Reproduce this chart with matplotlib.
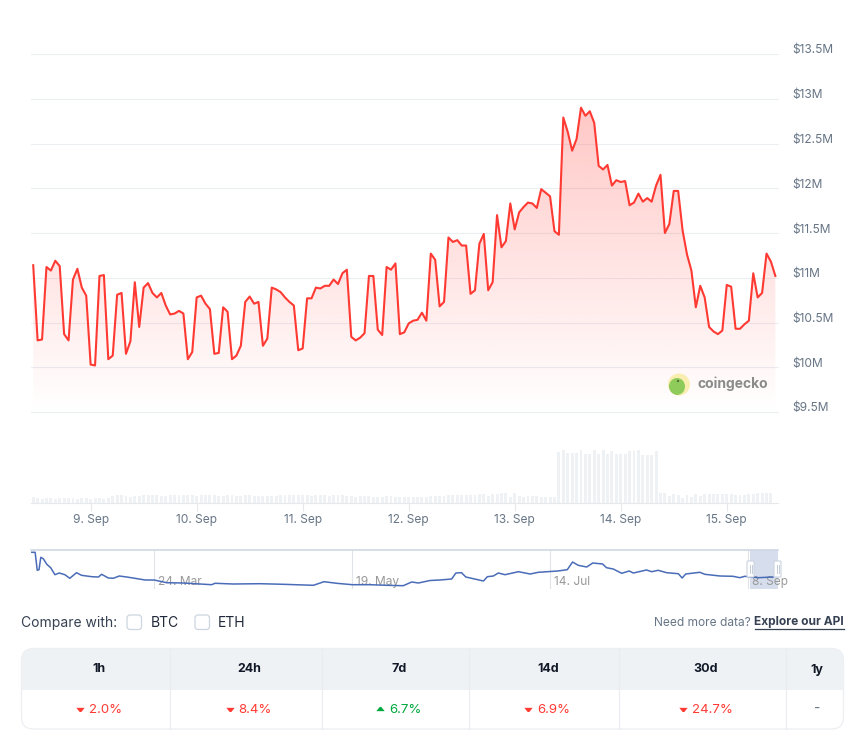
import numpy as np
import matplotlib
matplotlib.use("Agg")
import matplotlib.pyplot as plt
from matplotlib.patches import FancyBboxPatch, Rectangle, Circle, Ellipse
from matplotlib.transforms import ScaledTranslation
from matplotlib.ticker import FuncFormatter

plt.rcParams['font.family'] = ['Inter', 'DejaVu Sans']

# hourly price in $M, first point is 13h before 9 Sep 00:00
price = [11.14, 10.30, 10.31, 11.12, 11.08, 11.19, 11.13, 10.37, 10.30, 10.98,
         11.10, 10.89, 10.80, 10.03, 10.02, 11.02, 11.03, 10.09, 10.13, 10.81,
         10.83, 10.15, 10.29, 10.95, 10.45, 10.89, 10.94, 10.83, 10.78, 10.83,
         10.69, 10.59, 10.60, 10.63, 10.60, 10.09, 10.17, 10.78, 10.80, 10.71,
         10.65, 10.15, 10.16, 10.67, 10.62, 10.09, 10.13, 10.24, 10.73, 10.79,
         10.71, 10.73, 10.24, 10.32, 10.89, 10.87, 10.84, 10.78, 10.73, 10.69,
         10.19, 10.21, 10.77, 10.77, 10.89, 10.88, 10.91, 10.91, 10.98, 10.93,
         11.05, 11.09, 10.34, 10.30, 10.33, 10.38, 11.02, 11.02, 10.42, 10.36,
         11.12, 11.09, 11.16, 10.37, 10.39, 10.49, 10.52, 10.53, 10.61, 10.52,
         11.27, 11.20, 10.68, 10.73, 11.45, 11.40, 11.42, 11.36, 11.36, 10.82,
         10.86, 11.38, 11.49, 10.86, 10.95, 11.70, 11.34, 11.41, 11.83, 11.54,
         11.73, 11.79, 11.84, 11.83, 11.78, 11.99, 11.95, 11.91, 11.52, 11.48,
         12.79, 12.63, 12.42, 12.55, 12.90, 12.81, 12.86, 12.73, 12.25, 12.21,
         12.26, 12.03, 12.09, 12.07, 12.08, 11.81, 11.84, 11.94, 11.85, 11.89,
         11.85, 12.03, 12.15, 11.50, 11.60, 11.97, 11.97, 11.53, 11.26, 11.08,
         10.67, 10.91, 10.78, 10.45, 10.40, 10.37, 10.41, 10.92, 10.90, 10.43,
         10.43, 10.48, 10.52, 11.05, 10.78, 10.83, 11.27, 11.18, 11.02]

# volume bars, relative height
volume = [6, 4.5, 4, 4.5, 4.5, 4, 4.5, 4.5, 4.5, 4.5, 4, 4.5, 4.5, 4, 4.5, 4.5, 4, 4.5,
          7, 7.5, 7.5, 6.5, 6, 7, 6.5, 7.5, 8, 8, 8, 7, 7, 7.5, 7.5, 7.5, 7.5, 7.5,
          7.5, 7, 7.5, 7.5, 7.5, 7.5, 6.5, 6.5, 7.5, 7.5, 6.5, 7, 7.5, 7.5, 6.5, 6.5,
          6.5, 7, 7, 6.5, 7.5, 7.5,
          7.5, 7.5, 7.5, 7.5, 7.5, 7, 7.5, 7.5, 7.5, 7, 7.5, 7.5, 7.5, 7, 6.5, 6,
          6.5, 6.5, 6.5, 6, 5.5, 5.5, 6.5, 6.5, 5.5, 5.5, 5.5, 5.5, 5.5, 5.5, 5.5, 5.5,
          6.5, 6.5, 6.5, 6.5, 7.5, 7.5, 7.5, 7.5, 7.5, 7.5, 7.5, 8.5, 8.5, 7, 8.5, 8.5,
          9.5, 9.5, 5.5, 9.5, 6.5, 6, 6.5, 6.5, 6.5, 6, 5.5, 5.5, 5.5,
          51, 53, 50, 50, 50, 53, 49, 49, 53, 49, 53, 49, 52, 49, 49, 49, 52, 52, 53,
          48, 48, 48, 52, 10, 10, 6.5, 9, 8, 4.5, 8, 5.5, 9, 6.5, 9, 9, 9, 9, 9, 9,
          9, 8, 8, 8, 9, 9, 10, 10, 10, 10]

hours = np.arange(len(price)) - 13
vol_hours = np.arange(len(volume)) - 13

day_ticks = [0, 24, 48, 72, 96, 120, 144]
day_labels = ['9. Sep', '10. Sep', '11. Sep', '12. Sep', '13. Sep', '14. Sep', '15. Sep']
price_ticks = [9.5, 10, 10.5, 11, 11.5, 12, 12.5, 13, 13.5]

# navigator overview, days from 24 Mar
nav_days = [-34.9, -33.7, -33.1, -32.6, -32.1, -31.4, -30.4, -29.3, -28.1, -26.9, -25.3, -23.9,
            -22.0, -20.6, -17.7, -15.8, -14.9, -13.0, -11.6, -9.9, -7.8, -5.5, -2.6, 0, 3.5, 8.2,
            12.9, 16.2, 17.2, 22.3, 29.9, 36.5, 45, 48, 51.6, 56, 61, 65.7, 70.4, 72.8, 74.7, 78,
            80.8, 84.1, 85.3, 86.9, 88.1, 93.1, 94.2, 95.9, 97.3, 99.2, 103, 106.3, 108.6, 114.1,
            116.8, 118.3, 119.9, 122.3, 124, 126.8, 127.9, 129.8, 132.2, 134.3, 135.5, 139.2,
            140.7, 142.5, 144.9, 148.2, 149.3, 150.3, 154.3, 155.7, 160, 163.7, 165.6, 167,
            170.8, 175]
nav_vals = [36.7, 36.7, 18.7, 19.3, 31.7, 30.3, 24.7, 21.3, 14.3, 16, 14.3, 10.7,
            16.3, 13.7, 12.3, 12, 14.7, 11, 10.7, 13, 12, 10.7, 9, 9, 6.3, 6,
            5, 4.3, 5.7, 5, 5.3, 4.7, 3.7, 7.3, 5.7, 4.3, 4.3, 3.7, 3.3, 7, 6, 8.5,
            9, 10, 16, 16.3, 12, 8, 12.3, 13, 16, 14.3, 17.3, 15, 16.7, 18,
            19.3, 27, 23.7, 22, 26, 25, 21.3, 20, 15.7, 18, 16, 19,
            17.3, 18.7, 16.3, 15.3, 11, 15, 16.7, 14.7, 13, 12.7, 11.3, 12.7,
            11.3, 12]
nav_ticks = [0, 56, 112, 168]
nav_labels = ['24. Mar', '19. May', '14. Jul', '8. Sep']

# table
periods = ['1h', '24h', '7d', '14d', '30d', '1y']
changes = [-2.0, -8.4, 6.7, -6.9, -24.7]

W, H = 859, 742
RED = '#ff3a33'
GREEN = '#00a83e'
GRID = '#eceef2'
TXT = '#677586'


def px_axes(left, top, right, bottom):
    return fig.add_axes([left / W, 1 - bottom / H, (right - left) / W, (bottom - top) / H])


fig = plt.figure(figsize=(W / 100, H / 100), dpi=100, facecolor='white')

# main price panel
ax = px_axes(31, 54, 778, 412)
ax.set_xlim(-13.5, 155.6)
ax.set_ylim(9.5, 13.5)
ax.patch.set_alpha(0)
grad = np.zeros((256, 1, 4))
grad[:, 0, 0] = 1.0
grad[:, 0, 1] = 58 / 255
grad[:, 0, 2] = 51 / 255
grad[:, 0, 3] = np.linspace(0, 0.28, 256)
im = ax.imshow(grad, extent=(-13.5, 155.6, 9.5, max(price)), origin='lower', aspect='auto',
               interpolation='bilinear', zorder=1)
poly = ax.fill_between(hours, price, 9.5, color='none')
im.set_clip_path(poly.get_paths()[0], transform=ax.transData)
ax.set_xlim(-13.5, 155.6)
ax.set_ylim(9.5, 13.5)
ax.plot(hours, price, color=RED, lw=1.5, solid_joinstyle='round', zorder=3)
ax.set_yticks(price_ticks)
ax.yaxis.tick_right()
ax.yaxis.set_major_formatter(FuncFormatter(lambda v, p: '$%gM' % v))
ax.tick_params(axis='y', length=0, pad=10.5, labelsize=8.6, labelcolor=TXT)
ax.set_xticks([])
ax.grid(axis='y', color=GRID, lw=0.8, zorder=0)
ax.set_axisbelow(True)
for gl in ax.get_ygridlines():
    gl.set_clip_on(False)
for s in ax.spines.values():
    s.set_visible(False)
up = ScaledTranslation(0, 5 / 100, fig.dpi_scale_trans)
for lab in ax.get_yticklabels():
    lab.set_transform(lab.get_transform() + up)

# volume panel
vax = px_axes(31, 445, 778, 502.5)
vax.set_xlim(-13.5, 155.6)
vax.set_ylim(0, 57.5)
vax.bar(vol_hours, volume, width=0.66, color='#eff2f5')
vax.set_yticks([])
vax.set_xticks(day_ticks)
vax.set_xticklabels(day_labels)
vax.tick_params(axis='x', length=6, width=0.8, color='#e6e8ec', pad=2, labelsize=8.6, labelcolor=TXT)
for k in ['top', 'left', 'right']:
    vax.spines[k].set_visible(False)
vax.spines['bottom'].set_color('#e6e8ec')
vax.spines['bottom'].set_linewidth(0.8)

# navigator
nax = px_axes(31, 549.5, 778, 589)
nax.set_xlim(-34.87, 176.4)
nax.set_ylim(0, 39.5)
nax.add_patch(Rectangle((168.4, 0), 8, 39.5, color='#d6dded', lw=0, zorder=1))
nax.set_xticks(nav_ticks)
nax.set_xticklabels([])
nax.set_yticks([])
nax.tick_params(length=0)
nax.grid(axis='x', color='#e0e3e8', lw=0.8)
nax.set_axisbelow(True)
for k in ['bottom', 'left', 'right']:
    nax.spines[k].set_visible(False)
nax.spines['top'].set_color('#ccd4e0')
nax.spines['top'].set_linewidth(1.1)
for d, lab in zip(nav_ticks, nav_labels):
    nax.annotate(lab, (d, 7), xytext=(2.5, 0), textcoords='offset points', color='#999999',
                 fontsize=8.6, va='center', ha='left', annotation_clip=False, zorder=2)
nax.plot(nav_days, nav_vals, color='#4a6cb8', lw=1.1, zorder=3)

# everything else is page furniture, drawn in pixel coordinates
ui = fig.add_axes([0, 0, 1, 1], facecolor='none')
ui.set_xlim(0, W)
ui.set_ylim(H, 0)
ui.axis('off')

# navigator handles
for hx in [750.5, 777.5]:
    ui.add_patch(FancyBboxPatch((hx - 3.5, 561), 7, 16, boxstyle='round,pad=0,rounding_size=1',
                                fc='white', ec='#ccd4e0', lw=0.8, zorder=5))
    ui.plot([hx - 1, hx - 1], [565, 573], color='#c4ccd8', lw=0.7, zorder=6)
    ui.plot([hx + 1, hx + 1], [565, 573], color='#c4ccd8', lw=0.7, zorder=6)

# coingecko mark
badge = Circle((679, 384.5), 11, fc='#f9edb0', ec='none')
ui.add_patch(badge)
blob = Ellipse((677, 386.5), 16, 17, fc='#8ecb5a', ec='none')
ui.add_patch(blob)
blob.set_clip_path(badge)
ui.add_patch(Circle((678, 381), 1.1, fc='#4d6b3a', ec='none'))
ui.text(697, 384, 'coingecko', fontsize=10, fontweight='bold', color='#8b8b8b', va='center', ha='left')

# compare row
ui.text(21, 623, 'Compare with:', fontsize=10, color='#364152', va='center')
for bx, name, tx in [(127, 'BTC', 151), (195, 'ETH', 218)]:
    ui.add_patch(FancyBboxPatch((bx, 615), 14.5, 14.5, boxstyle='round,pad=0,rounding_size=3',
                                fc='white', ec='#cdd5df', lw=0.9))
    ui.text(tx, 623, name, fontsize=10, color='#202939', va='center')
ui.text(750.5, 622.5, 'Need more data?', fontsize=8.6, color=TXT, va='center', ha='right')
ui.text(843.5, 622.5, 'Explore our API', fontsize=8.6, fontweight='bold', color='#364152', va='center', ha='right')
ui.plot([755, 843.5], [628.5, 628.5], color='#364152', lw=0.9)

# table
col_edges = [21, 170.3, 321.7, 469.3, 619.3, 785.7, 843.5]
col_centers = [99, 249.3, 398.7, 547.7, 705.3, 817]
change_left = [88.7, 238.7, 389, 537.3, 691.7]
arrow_down = [(-1, 0.4), (1, 0.4), (0.2, -0.6), (-0.2, -0.6)]
arrow_up = [(-1, -0.4), (1, -0.4), (0.2, 0.6), (-0.2, 0.6)]
outer = FancyBboxPatch((21.5, 648.5), 822, 80.5, boxstyle='round,pad=0,rounding_size=12',
                       fc='white', ec=GRID, lw=0.9, zorder=1)
ui.add_patch(outer)
head = Rectangle((21, 648), 823, 42, fc='#eff2f5', ec='none', zorder=2)
ui.add_patch(head)
head.set_clip_path(outer)
for ex in col_edges[1:-1]:
    ui.plot([ex, ex], [649, 729], color='#e9ecf1', lw=0.8, zorder=3)
for cx, name in zip(col_centers, periods):
    ui.text(cx, 669.5, name, fontsize=9, fontweight='bold', color='#111827', ha='center', va='center', zorder=4)
for tx, val in zip(change_left, changes):
    col = RED if val < 0 else GREEN
    ui.plot([tx - 9], [708.5], marker=arrow_down if val < 0 else arrow_up, ms=6, color=col, mew=0, zorder=4)
    ui.text(tx, 710, '%.1f%%' % abs(val), fontsize=9.5, color=col, ha='left', va='center', zorder=4)
ui.text(col_centers[5], 709, '-', fontsize=10, color=TXT, ha='center', va='center', zorder=4)

fig.savefig('out.png', dpi=100, facecolor='white')
